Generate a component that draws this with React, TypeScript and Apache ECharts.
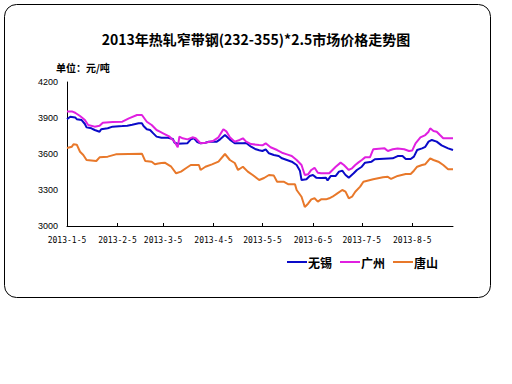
import React, { useEffect, useRef } from "react";
import * as echarts from "echarts";

const titleText = "2013年热轧窄带钢(232-355)*2.5市场价格走势图";
const unitText = "单位：元/吨";
const seriesNames = ["无锡", "广州", "唐山"];
const seriesColors = ["#0a0ac8", "#e020e0", "#e8782a"];
const yTicks = { min: 3000, max: 4200, interval: 300 };
const startDate = [2013, 1, 5];
const dayCount = 238;

const wuxi: [string, number][] = [
  ["2013-1-5", 3890], ["2013-1-7", 3910], ["2013-1-10", 3905], ["2013-1-11", 3890],
  ["2013-1-14", 3883], ["2013-1-16", 3850], ["2013-1-17", 3822], ["2013-1-20", 3814],
  ["2013-1-22", 3800], ["2013-1-25", 3786], ["2013-1-26", 3806], ["2013-1-30", 3814],
  ["2013-2-2", 3828], ["2013-2-8", 3833], ["2013-2-11", 3836], ["2013-2-14", 3844],
  ["2013-2-18", 3856], ["2013-2-20", 3856], ["2013-2-21", 3833], ["2013-2-23", 3806],
  ["2013-2-25", 3800], ["2013-2-27", 3772], ["2013-3-1", 3745], ["2013-3-4", 3735],
  ["2013-3-8", 3735], ["2013-3-11", 3725], ["2013-3-12", 3694], ["2013-3-14", 3685],
  ["2013-3-20", 3690], ["2013-3-22", 3722], ["2013-3-24", 3731], ["2013-3-26", 3700],
  ["2013-3-28", 3689], ["2013-3-31", 3694], ["2013-4-2", 3703], ["2013-4-7", 3703],
  ["2013-4-9", 3722], ["2013-4-12", 3758], ["2013-4-15", 3720], ["2013-4-18", 3689],
  ["2013-4-23", 3689], ["2013-4-25", 3692], ["2013-4-28", 3661], ["2013-5-1", 3639],
  ["2013-5-3", 3631], ["2013-5-5", 3625], ["2013-5-7", 3639], ["2013-5-9", 3606],
  ["2013-5-12", 3592], ["2013-5-15", 3583], ["2013-5-17", 3564], ["2013-5-20", 3550],
  ["2013-5-23", 3536], ["2013-5-26", 3508], ["2013-5-28", 3461], ["2013-5-29", 3383],
  ["2013-6-1", 3389], ["2013-6-3", 3417], ["2013-6-5", 3425], ["2013-6-7", 3403],
  ["2013-6-10", 3400], ["2013-6-13", 3403], ["2013-6-14", 3380], ["2013-6-16", 3417],
  ["2013-6-19", 3417], ["2013-6-21", 3453], ["2013-6-23", 3461], ["2013-6-25", 3425],
  ["2013-6-27", 3403], ["2013-6-30", 3439], ["2013-7-2", 3467], ["2013-7-5", 3494],
  ["2013-7-7", 3528], ["2013-7-11", 3536], ["2013-7-13", 3556], ["2013-7-24", 3564],
  ["2013-7-27", 3583], ["2013-7-30", 3583], ["2013-8-1", 3558], ["2013-8-4", 3558],
  ["2013-8-6", 3578], ["2013-8-8", 3633], ["2013-8-11", 3647], ["2013-8-13", 3660],
  ["2013-8-15", 3703], ["2013-8-17", 3717], ["2013-8-20", 3703], ["2013-8-23", 3672],
  ["2013-8-27", 3647], ["2013-8-30", 3633],
];

const guangzhou: [string, number][] = [
  ["2013-1-5", 3955], ["2013-1-8", 3955], ["2013-1-10", 3944], ["2013-1-13", 3917],
  ["2013-1-16", 3883], ["2013-1-18", 3842], ["2013-1-22", 3828], ["2013-1-25", 3835],
  ["2013-1-27", 3861], ["2013-2-2", 3867], ["2013-2-8", 3869], ["2013-2-12", 3897],
  ["2013-2-17", 3925], ["2013-2-20", 3925], ["2013-2-23", 3869], ["2013-2-26", 3842],
  ["2013-3-1", 3800], ["2013-3-3", 3786], ["2013-3-5", 3772], ["2013-3-9", 3744],
  ["2013-3-12", 3703], ["2013-3-14", 3656], ["2013-3-15", 3744], ["2013-3-17", 3731],
  ["2013-3-20", 3722], ["2013-3-23", 3739], ["2013-3-25", 3731], ["2013-3-28", 3689],
  ["2013-3-31", 3694], ["2013-4-5", 3711], ["2013-4-8", 3739], ["2013-4-11", 3806],
  ["2013-4-13", 3786], ["2013-4-15", 3739], ["2013-4-18", 3703], ["2013-4-21", 3717],
  ["2013-4-23", 3731], ["2013-4-25", 3703], ["2013-4-28", 3683], ["2013-5-3", 3675],
  ["2013-5-5", 3672], ["2013-5-7", 3689], ["2013-5-10", 3656], ["2013-5-14", 3633],
  ["2013-5-17", 3611], ["2013-5-20", 3597], ["2013-5-23", 3583], ["2013-5-26", 3550],
  ["2013-5-29", 3508], ["2013-5-31", 3425], ["2013-6-2", 3431], ["2013-6-4", 3467],
  ["2013-6-6", 3485], ["2013-6-8", 3444], ["2013-6-10", 3439], ["2013-6-15", 3439],
  ["2013-6-17", 3467], ["2013-6-19", 3494], ["2013-6-22", 3528], ["2013-6-24", 3508],
  ["2013-6-27", 3467], ["2013-6-29", 3481], ["2013-7-1", 3508], ["2013-7-3", 3530],
  ["2013-7-5", 3550], ["2013-7-7", 3572], ["2013-7-10", 3572], ["2013-7-12", 3639],
  ["2013-7-19", 3647], ["2013-7-21", 3625], ["2013-7-24", 3639], ["2013-7-27", 3645],
  ["2013-7-31", 3640], ["2013-8-3", 3625], ["2013-8-5", 3630], ["2013-8-7", 3689],
  ["2013-8-10", 3739], ["2013-8-13", 3758], ["2013-8-15", 3786], ["2013-8-16", 3814],
  ["2013-8-18", 3792], ["2013-8-20", 3786], ["2013-8-22", 3758], ["2013-8-24", 3731],
  ["2013-8-30", 3731],
];

const tangshan: [string, number][] = [
  ["2013-1-5", 3650], ["2013-1-8", 3661], ["2013-1-9", 3681], ["2013-1-11", 3678],
  ["2013-1-13", 3619], ["2013-1-15", 3592], ["2013-1-17", 3550], ["2013-1-23", 3542],
  ["2013-1-25", 3572], ["2013-1-30", 3578], ["2013-2-4", 3597], ["2013-2-20", 3603],
  ["2013-2-22", 3542], ["2013-2-26", 3536], ["2013-2-28", 3514], ["2013-3-2", 3520],
  ["2013-3-4", 3525], ["2013-3-6", 3528], ["2013-3-10", 3494], ["2013-3-13", 3439],
  ["2013-3-16", 3453], ["2013-3-19", 3481], ["2013-3-22", 3508], ["2013-3-27", 3508],
  ["2013-3-28", 3467], ["2013-3-31", 3494], ["2013-4-4", 3514], ["2013-4-8", 3536],
  ["2013-4-12", 3600], ["2013-4-15", 3550], ["2013-4-18", 3525], ["2013-4-20", 3467],
  ["2013-4-23", 3494], ["2013-4-26", 3453], ["2013-4-29", 3425], ["2013-5-3", 3383],
  ["2013-5-6", 3400], ["2013-5-9", 3425], ["2013-5-12", 3420], ["2013-5-14", 3369],
  ["2013-5-18", 3369], ["2013-5-21", 3347], ["2013-5-25", 3347], ["2013-5-26", 3300],
  ["2013-5-29", 3244], ["2013-5-31", 3158], ["2013-6-2", 3186], ["2013-6-4", 3222],
  ["2013-6-6", 3231], ["2013-6-8", 3203], ["2013-6-10", 3222], ["2013-6-13", 3222],
  ["2013-6-15", 3231], ["2013-6-17", 3244], ["2013-6-20", 3272], ["2013-6-23", 3300],
  ["2013-6-25", 3286], ["2013-6-27", 3231], ["2013-6-29", 3244], ["2013-7-1", 3286],
  ["2013-7-4", 3328], ["2013-7-6", 3369], ["2013-7-12", 3389], ["2013-7-18", 3406],
  ["2013-7-21", 3410], ["2013-7-23", 3392], ["2013-7-27", 3417], ["2013-8-1", 3433],
  ["2013-8-4", 3433], ["2013-8-6", 3461], ["2013-8-8", 3494], ["2013-8-11", 3508],
  ["2013-8-13", 3515], ["2013-8-16", 3564], ["2013-8-18", 3550], ["2013-8-21", 3536],
  ["2013-8-24", 3508], ["2013-8-27", 3472], ["2013-8-30", 3472],
];

function buildDates(): string[] {
  const out: string[] = [];
  const d0 = new Date(startDate[0], startDate[1] - 1, startDate[2]);
  for (let i = 0; i < dayCount; i++) {
    const d = new Date(d0.getFullYear(), d0.getMonth(), d0.getDate() + i);
    out.push(`${d.getFullYear()}-${d.getMonth() + 1}-${d.getDate()}`);
  }
  return out;
}

export default function App() {
  const ref = useRef<HTMLDivElement>(null);
  useEffect(() => {
    if (!ref.current) return;
    const chart = echarts.init(ref.current, null, { renderer: "svg" });
    const dates = buildDates();
    const isFifth = (_i: number, v: string) => v.split("-")[2] === "5";
    const allData = [wuxi, guangzhou, tangshan];
    chart.setOption({
      animation: false,
      backgroundColor: "#ffffff",
      title: [
        {
          text: titleText,
          left: "center",
          top: 27,
          textStyle: { fontSize: 14, fontWeight: "bold", color: "#000", fontFamily: "Noto Sans CJK SC" },
        },
        {
          text: unitText,
          left: 51,
          top: 57,
          textStyle: { fontSize: 10, fontWeight: "bold", color: "#000", fontFamily: "Noto Sans CJK SC" },
        },
      ],
      graphic: [
        {
          type: "rect",
          shape: { x: 4.5, y: 4.5, width: 486, height: 293, r: 12 },
          style: { fill: "none", stroke: "#000", lineWidth: 1 },
          silent: true,
          z: -1,
        },
      ],
      legend: {
        left: 282,
        top: 251,
        icon: "rect",
        itemWidth: 20,
        itemHeight: 2,
        itemGap: 8,
        textStyle: { fontSize: 12, fontWeight: "bold", color: "#000", fontFamily: "Noto Sans CJK SC", padding: [0, 0, 0, -4] },
        data: seriesNames,
      },
      grid: { left: 67, right: 59, top: 82, bottom: 158, containLabel: false },
      xAxis: {
        type: "category",
        data: dates,
        boundaryGap: false,
        axisLine: { lineStyle: { color: "#000", width: 1 } },
        axisTick: { inside: true, length: 3, interval: isFifth, lineStyle: { color: "#000" } },
        axisLabel: {
          interval: isFifth,
          fontSize: 8,
          color: "#000",
          fontFamily: "DejaVu Sans Mono",
          margin: 10,
          hideOverlap: false,
        },
        splitLine: { show: false },
      },
      yAxis: {
        type: "value",
        min: yTicks.min,
        max: yTicks.max,
        interval: yTicks.interval,
        axisLine: { show: true, lineStyle: { color: "#000", width: 1 } },
        axisTick: { show: false },
        axisLabel: {
          fontSize: 9,
          color: "#000",
          fontFamily: "Liberation Sans",
          margin: 9,
          formatter: (v: number) => String(v),
        },
        splitLine: { show: false },
      },
      series: seriesNames.map((name, i) => ({
        name,
        type: "line",
        data: allData[i],
        symbol: "none",
        showSymbol: false,
        lineStyle: { color: seriesColors[i], width: 2 },
        itemStyle: { color: seriesColors[i] },
      })),
    });
    return () => chart.dispose();
  }, []);
  return <div ref={ref} style={{ position: "fixed", left: 0, top: 0, width: 512, height: 384 }} />;
}
